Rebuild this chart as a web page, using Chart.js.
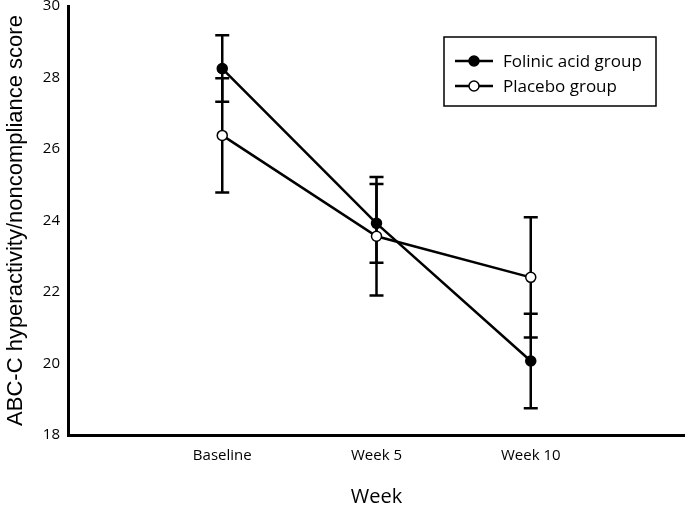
<!DOCTYPE html>
<html>
<head>
<meta charset="utf-8">
<script src="https://cdn.jsdelivr.net/npm/chart.js@4"></script>
<style>
    body { margin: 0; background: #fff; overflow: hidden; }
    canvas { display: block; }
</style>
</head>
<body>
<canvas id="scoreChart" width="685" height="505"></canvas>
<script>
const weeks = ["Baseline", "Week 5", "Week 10"];
const folinicMean = [28.25, 23.92, 20.07];
const folinicErr = [0.93, 1.1, 1.32];
const placeboMean = [26.38, 23.56, 22.41];
const placeboErr = [1.6, 1.66, 1.68];
const yTicks = [18, 20, 22, 24, 26, 28, 30];

const FONT = "'Open Sans', 'Noto Sans', sans-serif";

const toPoints = (values) => values.map((v, i) => ({ x: i + 1, y: v }));

const errorBars = {
    id: "errorBars",
    beforeDatasetsDraw(chart) {
        const { ctx, scales } = chart;
        const sets = [folinicErr, placeboErr];
        ctx.save();
        ctx.strokeStyle = "#000";
        ctx.lineWidth = 2.5;
        chart.data.datasets.forEach((ds, d) => {
            ds.data.forEach((p, i) => {
                const x = scales.x.getPixelForValue(p.x);
                const top = scales.y.getPixelForValue(p.y + sets[d][i]);
                const bot = scales.y.getPixelForValue(p.y - sets[d][i]);
                ctx.beginPath();
                ctx.moveTo(x, top);
                ctx.lineTo(x, bot);
                ctx.moveTo(x - 7, top);
                ctx.lineTo(x + 7, top);
                ctx.moveTo(x - 7, bot);
                ctx.lineTo(x + 7, bot);
                ctx.stroke();
            });
        });
        ctx.restore();
    },
};

// boxed legend, top right
const boxLegend = {
    id: "boxLegend",
    afterDraw(chart) {
        const { ctx } = chart;
        ctx.save();
        ctx.strokeStyle = "#000";
        ctx.lineWidth = 1.5;
        ctx.strokeRect(444, 37, 212, 69);
        ctx.font = "500 17px " + FONT;
        ctx.textBaseline = "middle";
        chart.data.datasets.forEach((ds, i) => {
            const y = 61 + i * 25;
            ctx.lineWidth = 2.5;
            ctx.beginPath();
            ctx.moveTo(455, y);
            ctx.lineTo(493, y);
            ctx.stroke();
            ctx.beginPath();
            ctx.arc(474, y, 5, 0, Math.PI * 2);
            ctx.fillStyle = ds.pointBackgroundColor;
            ctx.fill();
            ctx.lineWidth = 1.5;
            ctx.stroke();
            ctx.fillStyle = "#000";
            ctx.fillText(ds.label, 503, y + 1);
        });
        ctx.restore();
    },
};

const ctx = document.getElementById("scoreChart").getContext("2d");
const myChart = new Chart(ctx, {
    type: "line",
    data: {
        datasets: [
            {
                label: "Folinic acid group",
                data: toPoints(folinicMean),
                borderColor: "#000",
                borderWidth: 2.5,
                pointRadius: 5,
                pointBackgroundColor: "#000",
                pointBorderColor: "#000",
                pointBorderWidth: 1.5,
            },
            {
                label: "Placebo group",
                data: toPoints(placeboMean),
                borderColor: "#000",
                borderWidth: 2.5,
                pointRadius: 5,
                pointBackgroundColor: "#fff",
                pointBorderColor: "#000",
                pointBorderWidth: 1.5,
            },
        ],
    },
    options: {
        responsive: false,
        animation: false,
        layout: { autoPadding: false, padding: { top: 6, right: 0, bottom: 0, left: 0 } },
        plugins: {
            legend: { display: false },
            tooltip: { enabled: false },
        },
        scales: {
            x: {
                type: "linear",
                min: 0,
                max: 4,
                afterBuildTicks: (scale) => {
                    scale.ticks = [1, 2, 3].map((v) => ({ value: v }));
                },
                afterFit: (scale) => {
                    scale.height = 70;
                    scale.paddingLeft = 0;
                    scale.paddingRight = 0;
                },
                grid: { display: false, drawTicks: false },
                border: { display: true, color: "#000", width: 3 },
                ticks: {
                    color: "#000",
                    padding: 12,
                    font: { family: FONT, size: 15, weight: 500 },
                    callback: (v) => weeks[v - 1],
                },
                title: {
                    display: true,
                    text: "Week",
                    color: "#000",
                    font: { family: FONT, size: 20, weight: 500 },
                    padding: { top: 22, bottom: -4 },
                },
            },
            y: {
                min: 18,
                max: 30,
                afterBuildTicks: (scale) => {
                    scale.ticks = yTicks.map((v) => ({ value: v }));
                },
                afterFit: (scale) => {
                    scale.width = 68;
                    scale.paddingTop = 0;
                    scale.paddingBottom = 0;
                },
                grid: { display: false, drawTicks: false },
                border: { display: true, color: "#000", width: 3 },
                ticks: {
                    color: "#000",
                    padding: 8,
                    font: { family: FONT, size: 15, weight: 500 },
                },
                title: {
                    display: true,
                    text: "ABC-C hyperactivity/noncompliance score",
                    color: "#000",
                    font: { family: "'Liberation Sans', Arial, sans-serif", size: 22 },
                    padding: { bottom: 0, top: 3 },
                },
            },
        },
    },
    plugins: [errorBars, boxLegend],
});
</script>
</body>
</html>
